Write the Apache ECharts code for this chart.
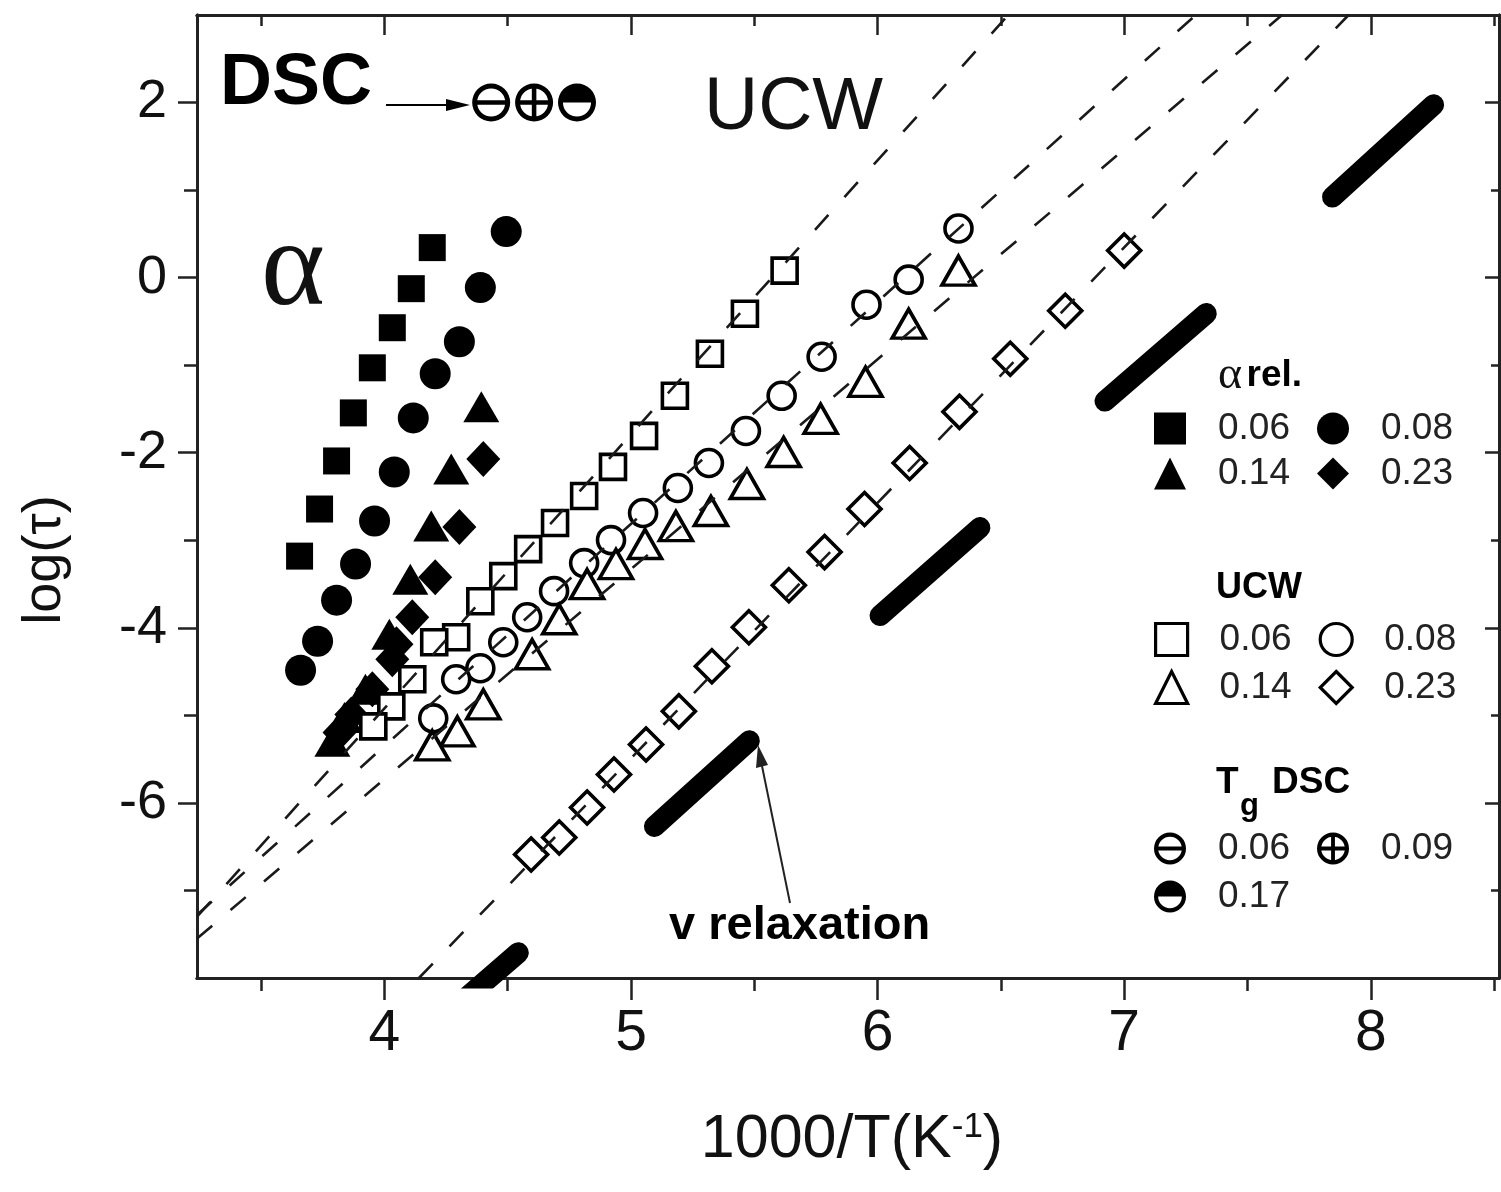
<!DOCTYPE html>
<html><head><meta charset="utf-8">
<style>html,body{margin:0;padding:0;background:#fff;}#c{width:1501px;height:1192px;}</style>
<script src="https://cdn.jsdelivr.net/npm/echarts@6/dist/echarts.min.js"></script>
</head><body><div id="c"></div>
<script>
// ---------- data (1000/T, log tau) ----------
const alpha006 = [[4.194,0.343],[4.109,-0.126],[4.032,-0.572],[3.951,-1.030],[3.874,-1.545],[3.806,-2.094],[3.737,-2.643],[3.656,-3.181]];
const alpha008 = [[4.494,0.526],[4.389,-0.114],[4.304,-0.732],[4.206,-1.098],[4.117,-1.602],[4.040,-2.220],[3.960,-2.780],[3.883,-3.272],[3.806,-3.684],[3.729,-4.153],[3.660,-4.485]];
const alpha014 = [[4.393,-1.476],[4.271,-2.185],[4.190,-2.838],[4.105,-3.444],[4.020,-4.073],[3.923,-4.703],[3.838,-5.023],[3.789,-5.297]];
const alpha023 = [[4.401,-2.071],[4.304,-2.849],[4.206,-3.421],[4.113,-3.879],[4.049,-4.188],[4.032,-4.359],[3.951,-4.703],[3.866,-4.989],[3.818,-5.195]];
const ucw006 = [[5.623,0.080],[5.462,-0.412],[5.320,-0.870],[5.178,-1.350],[5.053,-1.808],[4.927,-2.162],[4.810,-2.494],[4.692,-2.803],[4.583,-3.101],[4.482,-3.410],[4.389,-3.696],[4.291,-4.108],[4.202,-4.165],[4.113,-4.588],[4.028,-4.897],[3.955,-5.126]];
const ucw008 = [[6.328,0.561],[6.126,-0.023],[5.955,-0.309],[5.773,-0.904],[5.611,-1.350],[5.466,-1.751],[5.316,-2.117],[5.190,-2.403],[5.049,-2.689],[4.919,-2.998],[4.810,-3.261],[4.688,-3.581],[4.579,-3.879],[4.482,-4.165],[4.389,-4.462],[4.291,-4.588],[4.198,-5.034]];
const ucw014 = [[6.328,0.080],[6.126,-0.526],[5.951,-1.190],[5.769,-1.613],[5.619,-1.991],[5.470,-2.357],[5.324,-2.666],[5.182,-2.838],[5.057,-3.043],[4.939,-3.272],[4.822,-3.501],[4.709,-3.902],[4.599,-4.302],[4.401,-4.874],[4.296,-5.183],[4.194,-5.343]];
const ucw023 = [[7.000,0.309],[6.761,-0.378],[6.538,-0.927],[6.332,-1.533],[6.130,-2.117],[5.947,-2.643],[5.785,-3.135],[5.640,-3.513],[5.478,-3.993],[5.328,-4.439],[5.194,-4.954],[5.061,-5.332],[4.931,-5.675],[4.822,-6.053],[4.709,-6.396],[4.595,-6.590]];
const tgDsc006 = [[4.433,2.0]];
const tgDsc009 = [[4.607,2.0]];
const tgDsc017 = [[4.781,2.0]];
// dashed fit lines (end points)
const fit006 = [[3.24,-7.30],[6.53,3.0]];
const fit008 = [[3.24,-7.28],[7.29,3.0]];
const fit014 = [[3.24,-7.55],[7.64,3.0]];
const fit023 = [[4.14,-8.0],[7.91,3.0]];
// nu relaxation segments
const nuSeg1 = [[4.24,-8.45],[4.543,-7.712]];
const nuSeg2 = [[5.095,-6.27],[5.480,-5.29]];
const nuSeg3 = [[6.010,-3.86],[6.415,-2.855]];
const nuSeg4 = [[6.922,-1.41],[7.333,-0.41]];
const nuSeg5 = [[7.845,0.92],[8.255,1.975]];
// axis ticks
const xMajor = [4,5,6,7,8];
const xMinor = [3.5,4.5,5.5,6.5,7.5,8.5];
const yMajor = [-6,-4,-2,0,2];
const yMinor = [-7,-5,-3,-1,1];

const FONT = 'Liberation Sans, Arial, sans-serif';
const INK = '#000';
const AX = '#222';

function xAx(pos, vals, len, inside, label, extra) {
  return Object.assign({
    type:'value', min:3.24, max:8.52, position:pos,
    axisLine:{show:true, onZero:false, lineStyle:{color:AX, width:3}},
    axisTick:{show:true, customValues:vals, length:len, inside:inside, lineStyle:{color:AX, width:2.5}},
    axisLabel:{show:label, customValues:vals, fontSize:57, fontFamily:FONT, color:'#111', margin:28},
    splitLine:{show:false}
  }, extra||{});
}
function yAx(pos, vals, len, inside, label, extra) {
  return Object.assign({
    type:'value', min:-8, max:3, position:pos,
    axisLine:{show:true, onZero:false, lineStyle:{color:AX, width:3}},
    axisTick:{show:true, customValues:vals, length:len, inside:inside, lineStyle:{color:AX, width:2.5}},
    axisLabel:{show:label, customValues:vals, fontSize:54, fontFamily:FONT, color:'#111', margin:30},
    splitLine:{show:false}
  }, extra||{});
}

const ring = 'M0,-1A1,1,0,1,1,0,1A1,1,0,1,1,0,-1Z M0,-0.74A0.74,0.74,0,1,0,0,0.74A0.74,0.74,0,1,0,0,-0.74Z';
const hbar = ' M-0.8,-0.12L0.8,-0.12L0.8,0.12L-0.8,0.12Z';
const vbar = ' M-0.12,-0.8L0.12,-0.8L0.12,0.8L-0.12,0.8Z';
const half = ' M-0.78,0A0.78,0.78,0,0,1,0.78,0Z';
const symMinus = 'path://' + ring + hbar;
const symPlus = 'path://' + ring + hbar + vbar;
const symHalf = 'path://' + ring + half;

function sc(name, data, symbol, size, filled, z) {
  return {
    type:'scatter', name, data, symbol, symbolSize:size, symbolKeepAspect:false,
    xAxisIndex:0, yAxisIndex:0, z:z, silent:true,
    itemStyle: filled ? {color:INK, borderColor:INK, borderWidth:0, opacity:1}
                      : {color:'#fff', borderColor:INK, borderWidth:3.6, opacity:1},
    emphasis:{disabled:true}
  };
}
function dash(data) {
  return {type:'line', data, symbol:'none', showSymbol:false, silent:true, z:8,
    xAxisIndex:0, yAxisIndex:0,
    lineStyle:{color:'#1a1a1a', width:2.6, type:[20,24], opacity:1}};
}
function seg(data) {
  return {type:'line', data, symbol:'none', showSymbol:false, silent:true, z:2,
    xAxisIndex:0, yAxisIndex:0,
    lineStyle:{color:'#000', width:21, cap:'round', opacity:1}};
}

const series = [
  seg(nuSeg1), seg(nuSeg2), seg(nuSeg3), seg(nuSeg4), seg(nuSeg5),
  sc('α 0.06', alpha006, 'rect', [27,27], true, 3),
  sc('α 0.08', alpha008, 'circle', 31, true, 3),
  sc('α 0.14', alpha014, 'triangle', [36,31], true, 3),
  sc('α 0.23', alpha023, 'diamond', [34,36], true, 3),
  sc('UCW 0.06', ucw006, 'rect', [25,25], false, 4),
  sc('UCW 0.08', ucw008, 'circle', 27, false, 4),
  sc('UCW 0.14', ucw014, 'triangle', [33,29], false, 4),
  sc('UCW 0.23', ucw023, 'diamond', [33,33], false, 4),
  dash(fit006), dash(fit008), dash(fit014), dash(fit023),
  sc('Tg 0.06', tgDsc006, symMinus, 38, true, 6),
  sc('Tg 0.09', tgDsc009, symPlus, 38, true, 6),
  sc('Tg 0.17', tgDsc017, symHalf, 38, true, 6)
];

const legendRows = [
  {names:['α 0.06','α 0.08'], cy:427, bw:0},
  {names:['α 0.14','α 0.23'], cy:472, bw:0},
  {names:['UCW 0.06','UCW 0.08'], cy:638, bw:3.2},
  {names:['UCW 0.14','UCW 0.23'], cy:686, bw:3.2},
  {names:['Tg 0.06','Tg 0.09'], cy:847, bw:0},
  {names:['Tg 0.17'], cy:895, bw:0}
];
const legends = legendRows.map(r => ({
  data:r.names, left:1154, top:r.cy-17, orient:'horizontal', padding:0,
  itemWidth:32, itemHeight:32, itemGap:27, selectedMode:false,
  formatter: n => n.split(' ')[1],
  textStyle:{fontSize:37, fontFamily:FONT, color:'#222', padding:[0,0,0,27]},
  itemStyle:{borderWidth:r.bw, opacity:1}
}));

const txt = (x, y, text, font, extra) => ({type:'text', x, y, silent:true, z:20,
  style:Object.assign({text, font, fill:INK, align:'left', verticalAlign:'middle'}, extra||{})});

const graphic = [
  txt(220, 84, 'DSC', 'bold 72px ' + FONT),
  {type:'line', silent:true, z:20, shape:{x1:386, y1:105, x2:452, y2:105}, style:{stroke:INK, lineWidth:2}},
  {type:'polygon', silent:true, z:20, shape:{points:[[446,99],[470,105],[446,111]]}, style:{fill:INK}},
  txt(704, 108, 'UCW', '75px ' + FONT, {fill:'#111'}),
  txt(261, 272, 'α', '122px Liberation Serif, serif', {fill:'#111'}),
  txt(669, 926, 'v relaxation', 'bold 47px ' + FONT),
  {type:'line', silent:true, z:20, shape:{x1:790, y1:903, x2:762, y2:766}, style:{stroke:'#222', lineWidth:2}},
  {type:'polygon', silent:true, z:20, shape:{points:[[768,765],[758,745],[756,768]]}, style:{fill:'#222'}},
  {type:'text', x:1218, y:376, silent:true, z:20, style:{text:'{a|α}{sp| }{b|rel.}', verticalAlign:'middle', fill:INK,
    rich:{a:{fontSize:46, fontFamily:'Liberation Serif, serif', fill:'#111'}, sp:{fontSize:16, fontFamily:FONT}, b:{fontSize:37, fontWeight:'bold', fontFamily:FONT, fill:INK}}}},
  txt(1216, 588, 'UCW', 'bold 36px ' + FONT),
  txt(1216, 783, 'T', 'bold 37px ' + FONT),
  txt(1240, 806, 'g', 'bold 31px ' + FONT),
  txt(1272, 783, 'DSC', 'bold 37px ' + FONT),
  {type:'text', x:45, y:560, rotation:Math.PI/2, silent:true, z:20,
    style:{text:'log(τ)', font:'54px ' + FONT, fill:'#111', align:'center', verticalAlign:'middle'}}
];

const chart = echarts.init(document.getElementById('c'), null, {renderer:'canvas'});
chart.setOption({
  animation:false,
  backgroundColor:'#fff',
  grid:{left:197, right:2, top:15, bottom:214, containLabel:false, outerBoundsMode:'none'},
  xAxis:[
    xAx('bottom', xMajor, 22, false, true, {
      name:'1000/T(K{s|-1})', nameLocation:'middle', nameGap:132,
      nameTextStyle:{fontSize:61, fontFamily:FONT, color:'#111', padding:[0,0,0,8], rich:{s:{fontSize:35, fontFamily:FONT, color:'#111', verticalAlign:'top'}}}
    }),
    xAx('bottom', xMinor, 13, false, false),
    xAx('top', xMajor, 20, true, false),
    xAx('top', xMinor, 11, true, false)
  ],
  yAxis:[
    yAx('left', yMajor, 19, false, true),
    yAx('left', yMinor, 13, false, false),
    yAx('right', yMajor, 14, true, false),
    yAx('right', yMinor, 8, true, false)
  ],
  legend: legends,
  graphic: graphic,
  series: series
});
</script>
</body></html>
